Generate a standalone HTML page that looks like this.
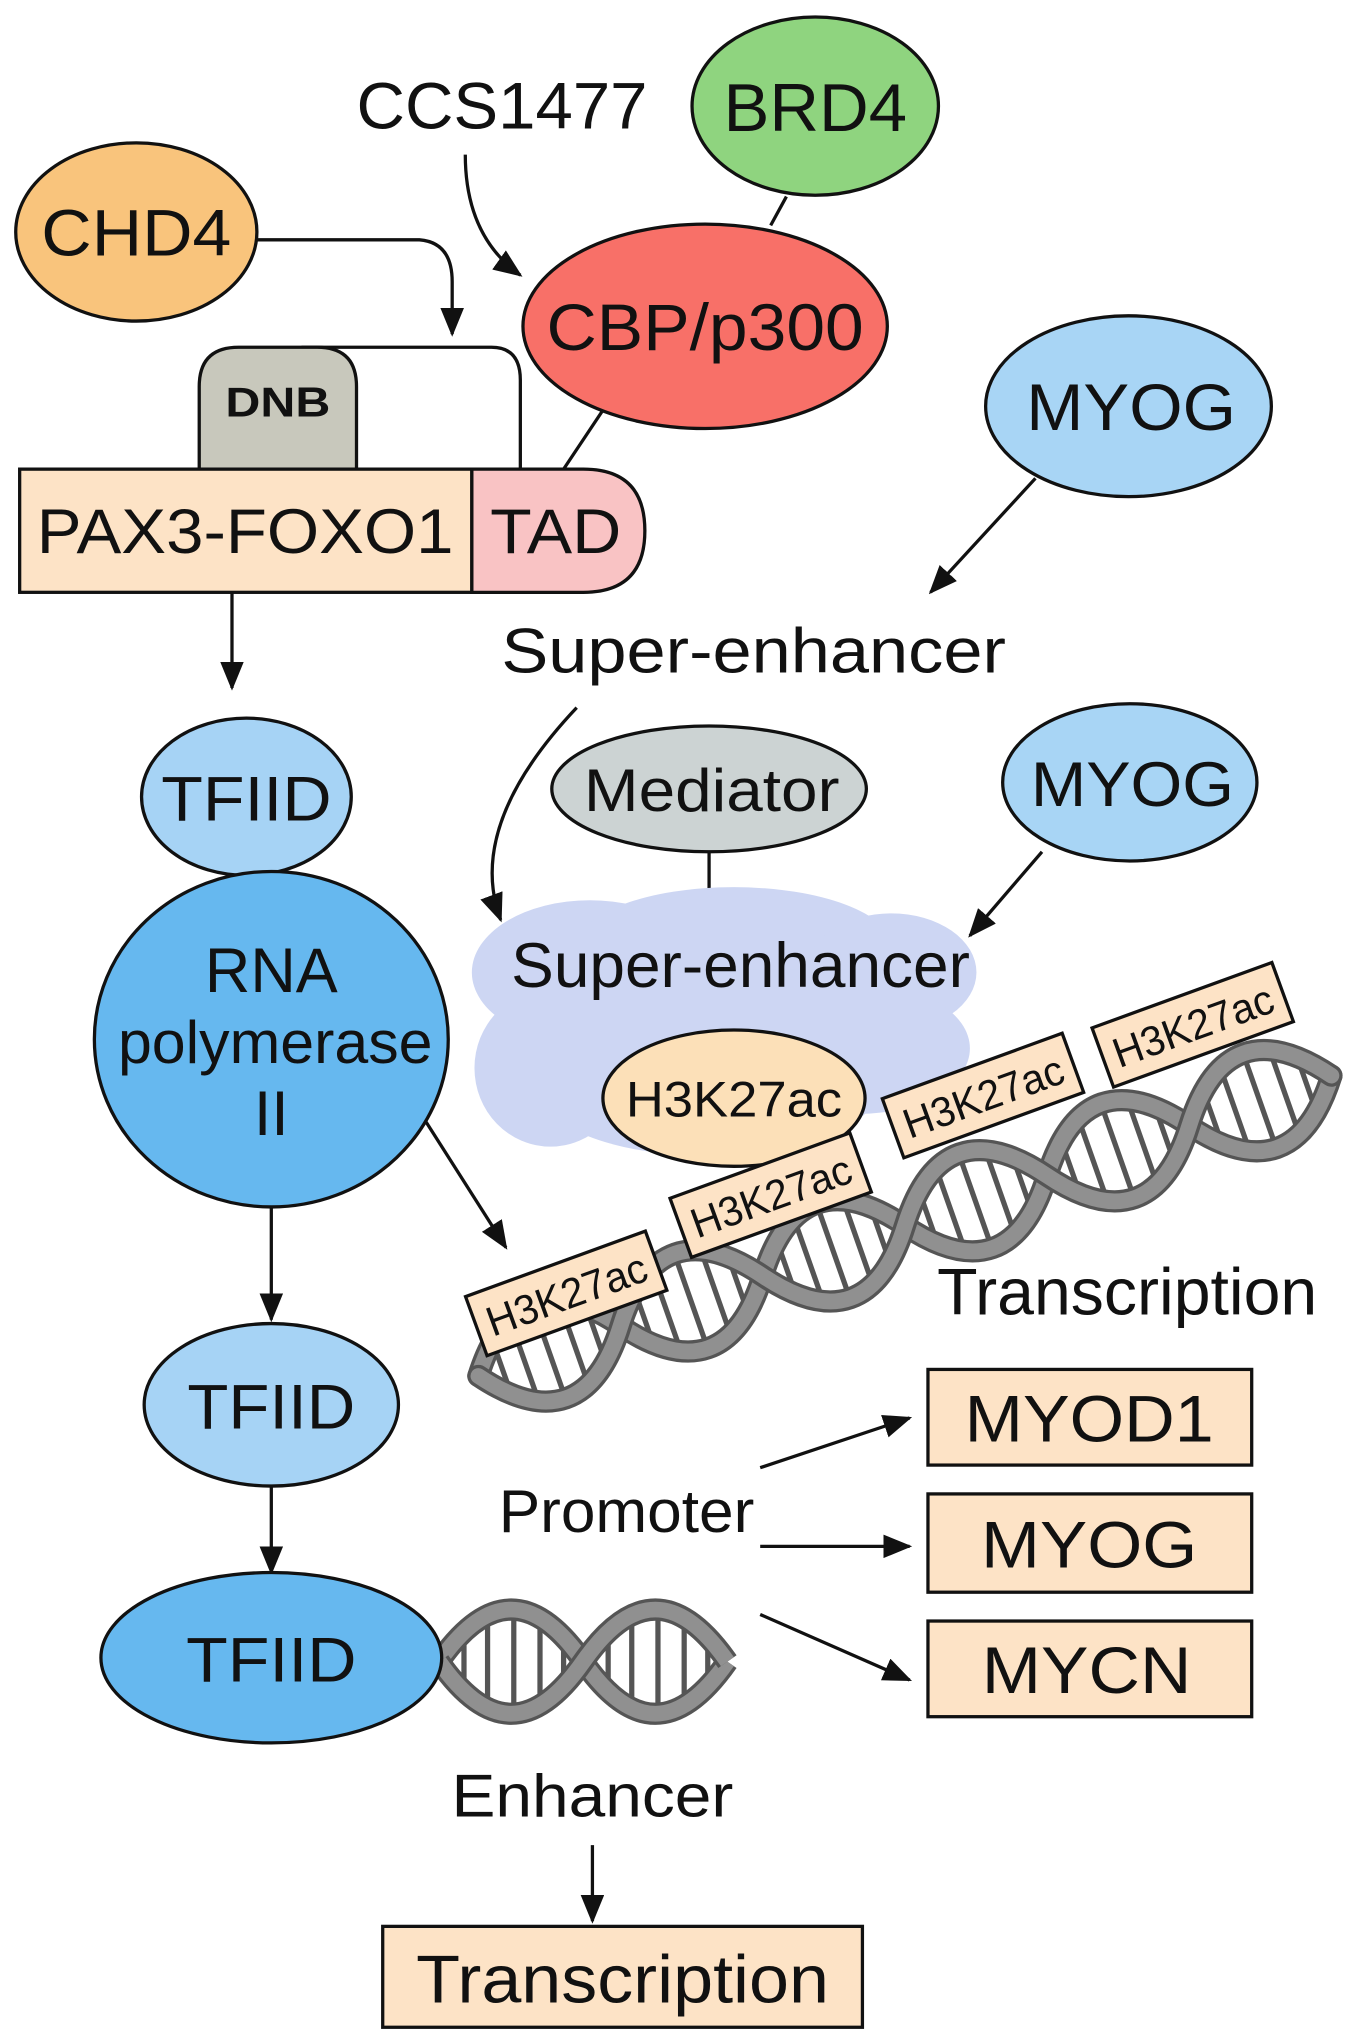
<!DOCTYPE html>
<html><head><meta charset="utf-8"><style>
html,body{margin:0;padding:0;background:#fff;}
svg{display:block;}
text{font-family:"Liberation Sans",sans-serif;fill:#111;}
</style></head><body>
<svg width="1350" height="2043" viewBox="0 0 1030 1559" preserveAspectRatio="none" xmlns="http://www.w3.org/2000/svg">
<defs>
<marker id="ah" markerWidth="22" markerHeight="18" refX="20" refY="9" orient="auto" markerUnits="userSpaceOnUse" viewBox="0 0 22 18">
<path d="M0,0 L22,9 L0,18 z" fill="#111"/></marker>
<g id="half">
<line x1="57" y1="-38" x2="57" y2="38"/>
<line x1="37" y1="-33" x2="37" y2="33"/>
<line x1="77" y1="-33" x2="77" y2="33"/>
<line x1="19" y1="-19" x2="19" y2="19"/>
<line x1="95" y1="-19" x2="95" y2="19"/>
</g>
</defs>

<!-- connectors -->
<g stroke="#111" stroke-width="2.5" fill="none">
<path d="M195,183 L320,183 Q345,185 345,215 L345,255" marker-end="url(#ah)"/>
<path d="M355,118 Q355,180 397,210" marker-end="url(#ah)"/>
<line x1="600" y1="150" x2="588" y2="172"/>
<line x1="462" y1="310" x2="430" y2="358"/>
<path d="M230,265 L375,265 Q397,265 397,290 L397,358"/>
<line x1="177" y1="452" x2="177" y2="525" marker-end="url(#ah)"/>
<line x1="790" y1="365" x2="710" y2="452" marker-end="url(#ah)"/>
<path d="M440,540 Q355,630 382,702" marker-end="url(#ah)"/>
<line x1="541" y1="650" x2="541" y2="700"/>
<line x1="795" y1="650" x2="740" y2="714" marker-end="url(#ah)"/>
<line x1="318" y1="845" x2="386" y2="952" marker-end="url(#ah)"/>
<line x1="207" y1="885" x2="207" y2="1007" marker-end="url(#ah)"/>
<line x1="207" y1="1135" x2="207" y2="1200" marker-end="url(#ah)"/>
<line x1="580" y1="1120" x2="694" y2="1082" marker-end="url(#ah)"/>
<line x1="580" y1="1180" x2="694" y2="1180" marker-end="url(#ah)"/>
<line x1="580" y1="1232" x2="694" y2="1282" marker-end="url(#ah)"/>
<line x1="452" y1="1408" x2="452" y2="1466" marker-end="url(#ah)"/>
</g>

<!-- top nodes -->
<text x="383" y="98" font-size="50" text-anchor="middle" textLength="222" lengthAdjust="spacingAndGlyphs">CCS1477</text>
<ellipse cx="622" cy="81" rx="94" ry="68" fill="#8fd47f" stroke="#111" stroke-width="2.5"/>
<text x="622" y="100" font-size="52" text-anchor="middle" textLength="140" lengthAdjust="spacingAndGlyphs">BRD4</text>
<ellipse cx="104" cy="177" rx="92" ry="68" fill="#f9c47c" stroke="#111" stroke-width="2.5"/>
<text x="104" y="195" font-size="50" text-anchor="middle" textLength="145" lengthAdjust="spacingAndGlyphs">CHD4</text>
<ellipse cx="538" cy="249" rx="139" ry="78" fill="#f87068" stroke="#111" stroke-width="2.5"/>
<text x="538" y="267" font-size="50" text-anchor="middle" textLength="242" lengthAdjust="spacingAndGlyphs">CBP/p300</text>

<path d="M152,358 L152,295 Q152,265 182,265 L242,265 Q272,265 272,295 L272,358 z" fill="#c8c8bc" stroke="#111" stroke-width="2.5"/>
<text x="212" y="318" font-size="32" font-weight="bold" text-anchor="middle" textLength="80" lengthAdjust="spacingAndGlyphs">DNB</text>
<rect x="15" y="358" width="345" height="94" fill="#fde3c6" stroke="#111" stroke-width="2.5"/>
<text x="187" y="422" font-size="48" text-anchor="middle" textLength="318" lengthAdjust="spacingAndGlyphs">PAX3-FOXO1</text>
<path d="M360,358 L445,358 Q492,358 492,405 Q492,452 445,452 L360,452 z" fill="#f9c3c4" stroke="#111" stroke-width="2.5"/>
<text x="424" y="422" font-size="48" text-anchor="middle" textLength="100" lengthAdjust="spacingAndGlyphs">TAD</text>

<ellipse cx="861" cy="310" rx="109" ry="69" fill="#a8d5f5" stroke="#111" stroke-width="2.5"/>
<text x="863" y="328" font-size="50" text-anchor="middle" textLength="160" lengthAdjust="spacingAndGlyphs">MYOG</text>
<text x="575" y="513" font-size="48" text-anchor="middle" textLength="385" lengthAdjust="spacingAndGlyphs">Super-enhancer</text>

<ellipse cx="188" cy="608" rx="80" ry="60" fill="#a6d3f5" stroke="#111" stroke-width="2.5"/>
<text x="188" y="626" font-size="48" text-anchor="middle" textLength="130" lengthAdjust="spacingAndGlyphs">TFIID</text>

<!-- cloud -->
<g fill="#cdd6f3">
<ellipse cx="450" cy="742" rx="90" ry="55"/>
<ellipse cx="560" cy="722" rx="120" ry="45"/>
<ellipse cx="680" cy="742" rx="65" ry="45"/>
<ellipse cx="420" cy="815" rx="58" ry="60"/>
<ellipse cx="540" cy="830" rx="130" ry="52"/>
<ellipse cx="655" cy="800" rx="85" ry="50"/>
<rect x="400" y="740" width="300" height="80"/>
</g>
<ellipse cx="541" cy="602" rx="120" ry="48" fill="#ccd3d3" stroke="#111" stroke-width="2.5"/>
<text x="543" y="619" font-size="46" text-anchor="middle" textLength="195" lengthAdjust="spacingAndGlyphs">Mediator</text>
<ellipse cx="862" cy="597" rx="97" ry="60" fill="#a8d5f5" stroke="#111" stroke-width="2.5"/>
<text x="864" y="615" font-size="48" text-anchor="middle" textLength="155" lengthAdjust="spacingAndGlyphs">MYOG</text>
<text x="565" y="753" font-size="48" text-anchor="middle" textLength="350" lengthAdjust="spacingAndGlyphs">Super-enhancer</text>
<ellipse cx="560" cy="838" rx="100" ry="52" fill="#fce0b8" stroke="#111" stroke-width="2.5"/>
<text x="560" y="852" font-size="38" text-anchor="middle" textLength="165" lengthAdjust="spacingAndGlyphs">H3K27ac</text>

<ellipse cx="207" cy="793" rx="135" ry="128" fill="#66b8ef" stroke="#111" stroke-width="2.5"/>
<text x="207" y="757" font-size="48" text-anchor="middle">RNA</text>
<text x="210" y="811" font-size="46" text-anchor="middle" textLength="240" lengthAdjust="spacingAndGlyphs">polymerase</text>
<text x="207" y="866" font-size="48" text-anchor="middle">II</text>

<!-- main helix -->
<g transform="translate(365,1050) rotate(-19.4)">
<g stroke="#555" stroke-width="4">
<use href="#half" x="0"/><use href="#half" x="115"/><use href="#half" x="230"/><use href="#half" x="345"/><use href="#half" x="460"/><use href="#half" x="575"/>
</g>
<g fill="none" stroke-linecap="round">
<path d="M0,0 C38,-51 77,-51 115,0 C153,51 192,51 230,0 C268,-51 307,-51 345,0 C383,51 422,51 460,0 C498,-51 537,-51 575,0 C613,51 652,51 690,0" stroke="#555" stroke-width="17"/>
<path d="M0,0 C38,-51 77,-51 115,0 C153,51 192,51 230,0 C268,-51 307,-51 345,0 C383,51 422,51 460,0 C498,-51 537,-51 575,0 C613,51 652,51 690,0" stroke="#909090" stroke-width="12"/>
<path d="M0,0 C38,51 77,51 115,0 C153,-51 192,-51 230,0 C268,51 307,51 345,0 C383,-51 422,-51 460,0 C498,51 537,51 575,0 C613,-51 652,-51 690,0" stroke="#555" stroke-width="17"/>
<path d="M0,0 C38,51 77,51 115,0 C153,-51 192,-51 230,0 C268,51 307,51 345,0 C383,-51 422,-51 460,0 C498,51 537,51 575,0 C613,-51 652,-51 690,0" stroke="#909090" stroke-width="12"/>
</g>
</g>

<!-- H3K27ac boxes -->
<g transform="translate(432,987) rotate(-20)"><rect x="-73" y="-24" width="146" height="48" fill="#fde3c6" stroke="#111" stroke-width="2.5"/><text x="0" y="12" font-size="32" text-anchor="middle" textLength="128" lengthAdjust="spacingAndGlyphs">H3K27ac</text></g>
<g transform="translate(588,912) rotate(-20)"><rect x="-73" y="-24" width="146" height="48" fill="#fde3c6" stroke="#111" stroke-width="2.5"/><text x="0" y="12" font-size="32" text-anchor="middle" textLength="128" lengthAdjust="spacingAndGlyphs">H3K27ac</text></g>
<g transform="translate(750,836) rotate(-20)"><rect x="-73" y="-24" width="146" height="48" fill="#fde3c6" stroke="#111" stroke-width="2.5"/><text x="0" y="12" font-size="32" text-anchor="middle" textLength="128" lengthAdjust="spacingAndGlyphs">H3K27ac</text></g>
<g transform="translate(910,782) rotate(-20)"><rect x="-73" y="-24" width="146" height="48" fill="#fde3c6" stroke="#111" stroke-width="2.5"/><text x="0" y="12" font-size="32" text-anchor="middle" textLength="128" lengthAdjust="spacingAndGlyphs">H3K27ac</text></g>

<text x="860" y="1003" font-size="50" text-anchor="middle" textLength="290" lengthAdjust="spacingAndGlyphs">Transcription</text>

<ellipse cx="207" cy="1072" rx="97" ry="62" fill="#a6d3f5" stroke="#111" stroke-width="2.5"/>
<text x="207" y="1090" font-size="48" text-anchor="middle" textLength="128" lengthAdjust="spacingAndGlyphs">TFIID</text>

<!-- small helix -->
<g transform="translate(335,1268)">
<g stroke="#555" stroke-width="4"><use href="#half" x="0"/><use href="#half" x="110"/></g>
<g fill="none">
<path d="M0,0 C37,-53 73,-53 110,0 C147,53 183,53 220,0" stroke="#555" stroke-width="17"/>
<path d="M0,0 C37,-53 73,-53 110,0 C147,53 183,53 220,0" stroke="#909090" stroke-width="12"/>
<path d="M0,0 C37,53 73,53 110,0 C147,-53 183,-53 220,0" stroke="#555" stroke-width="17"/>
<path d="M0,0 C37,53 73,53 110,0 C147,-53 183,-53 220,0" stroke="#909090" stroke-width="12"/>
</g>
</g>
<ellipse cx="207" cy="1265" rx="130" ry="65" fill="#66b8ef" stroke="#111" stroke-width="2.5"/>
<text x="207" y="1283" font-size="48" text-anchor="middle" textLength="130" lengthAdjust="spacingAndGlyphs">TFIID</text>

<text x="478" y="1169" font-size="46" text-anchor="middle" textLength="195" lengthAdjust="spacingAndGlyphs">Promoter</text>
<rect x="708" y="1045" width="247" height="73" fill="#fde3c6" stroke="#111" stroke-width="2.5"/>
<text x="831" y="1100" font-size="50" text-anchor="middle" textLength="190" lengthAdjust="spacingAndGlyphs">MYOD1</text>
<rect x="708" y="1140" width="247" height="75" fill="#fde3c6" stroke="#111" stroke-width="2.5"/>
<text x="831" y="1196" font-size="50" text-anchor="middle" textLength="165" lengthAdjust="spacingAndGlyphs">MYOG</text>
<rect x="708" y="1237" width="247" height="73" fill="#fde3c6" stroke="#111" stroke-width="2.5"/>
<text x="829" y="1292" font-size="50" text-anchor="middle" textLength="160" lengthAdjust="spacingAndGlyphs">MYCN</text>

<text x="452" y="1386" font-size="46" text-anchor="middle" textLength="215" lengthAdjust="spacingAndGlyphs">Enhancer</text>
<rect x="292" y="1470" width="366" height="77" fill="#fde3c6" stroke="#111" stroke-width="2.5"/>
<text x="475" y="1528" font-size="52" text-anchor="middle" textLength="315" lengthAdjust="spacingAndGlyphs">Transcription</text>
</svg>
</body></html>
